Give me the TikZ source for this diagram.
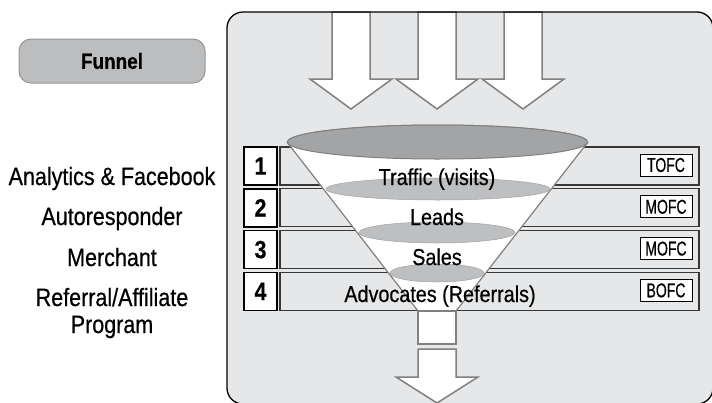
\documentclass[tikz,border=0pt]{standalone}
\usepackage{fontspec}
\setmainfont{Liberation Sans}[FakeStretch=0.86, FakeBold=0.5]
\newfontfamily\tagfont{Liberation Sans}[FakeStretch=0.7, FakeBold=0.5]
\usetikzlibrary{shapes.geometric}

\definecolor{panelgray}{RGB}{230,231,232}
\definecolor{mouthgray}{RGB}{163,164,166}
\definecolor{stagegray}{RGB}{190,191,193}
\definecolor{arrowgray}{RGB}{128,128,128}
\definecolor{btngray}{RGB}{188,189,191}
\definecolor{btnedge}{RGB}{150,150,150}
\definecolor{bandedge}{RGB}{55,55,55}

\begin{document}
\begin{tikzpicture}[x=1pt, y=-1pt,
    panelbox/.style={draw=black, line width=1.3pt, rounded corners=16pt},
    flowarrow/.style={draw=arrowgray, fill=white, line width=1.5pt, line join=miter},
    band/.style={draw=bandedge, line width=1.1pt, fill=panelgray, minimum width=419pt, minimum height=38pt, inner sep=0pt},
    numbox/.style={draw=black, line width=1.5pt, fill=white, minimum width=33pt, minimum height=38pt, inner sep=0pt, font=\fontsize{25}{27}\selectfont\bfseries},
    tagbox/.style={draw=black, line width=0.9pt, fill=white, minimum width=52pt, minimum height=22pt, inner sep=0pt, font=\tagfont\fontsize{20}{22}\selectfont},
    mouth/.style={ellipse, draw=arrowgray, line width=1pt, fill=mouthgray, inner sep=0pt},
    stage/.style={ellipse, draw=stagegray!85!black, line width=0.5pt, fill=stagegray, inner sep=0pt},
    funtext/.style={anchor=base, inner sep=0pt, font=\fontsize{23}{25}\selectfont},
    sidetext/.style={anchor=base, inner sep=0pt, font=\fontsize{25}{27}\selectfont},
    menubtn/.style={draw=btnedge, line width=1pt, fill=btngray, rounded corners=12pt, minimum width=186pt, minimum height=44pt, font=\fontsize{22}{24}\selectfont\bfseries}
]
\useasboundingbox (0,0) rectangle (712,402);
\clip (0,0) rectangle (712,402);

% ---- Grey panel behind the funnel ----
\fill[panelgray, rounded corners=16pt] (227,12) rectangle (713,404);

% ---- Incoming traffic arrows ----
\foreach \cx in {351, 437, 523} {
  \draw[flowarrow] (\cx-19,12) -- (\cx-19,79) -- (\cx-41,79) -- (\cx,109)
    -- (\cx+41,79) -- (\cx+19,79) -- (\cx+19,12) -- cycle;
}

% ---- Stage rows: number, band, funnel-level tag ----
\foreach \n/\tg [evaluate=\n as \y using 166+41.8*(\n-1)] in {1/TOFC, 2/MOFC, 3/MOFC, 4/BOFC} {
  \node[band]   (band\n) at (489.5,\y) {};
  \node[numbox] (num\n)  at (260.5,\y) {\n};
  \node[tagbox] (tag\n)  at (666,\y-1) {\tg};
}

% ---- Funnel body ----
\node[mouth, minimum width=300pt, minimum height=34pt] (top) at (437.5,142) {};
\coordinate (neckL) at (418,311);
\coordinate (neckR) at (456,311);
\fill[white] (top.west) -- (neckL) -- (neckR) -- (top.east) -- cycle;
\draw[arrowgray, line width=1.2pt] (top.west) -- (neckL);
\draw[arrowgray, line width=1.2pt] (top.east) -- (neckR);

% inner levels
\node[stage, minimum width=224pt, minimum height=22pt] (lvlA) at (438,189) {};
\node[stage, minimum width=156pt, minimum height=21pt] (lvlB) at (437,232.5) {};
\node[stage, minimum width=94pt,  minimum height=18pt] (lvlC) at (437,273) {};
\node[mouth, minimum width=300pt, minimum height=34pt] at (top) {};

% labels inside the funnel
\node[funtext] (traffic)   at (437,185) {Traffic (visits)};
\node[funtext] (leads)     at (437,225) {Leads};
\node[funtext] (sales)     at (437,265) {Sales};
\node[funtext] (advocates) at (440,302) {Advocates (Referrals)};

% ---- Spout and outgoing arrow ----
\draw[flowarrow] (neckL) rectangle (456,344);
\draw[flowarrow] (418,349) -- (418,377) -- (396,377) -- (437,403)
  -- (478,377) -- (456,377) -- (456,349) -- cycle;

% panel outline on top of the arrows
\draw[panelbox] (227,12) rectangle (713,404);

% ---- Left column ----
\node[menubtn] (funnelbtn) at (112,61) {Funnel};
\node[sidetext] (analytics) at (112,185) {Analytics \& Facebook};
\node[sidetext] (autoresp)  at (112,225) {Autoresponder};
\node[sidetext] (merchant)  at (112,266) {Merchant};
\node[sidetext] (referral)  at (112,306) {Referral/Affiliate};
\node[sidetext] (program)   at (112,333) {Program};

\end{tikzpicture}
\end{document}
